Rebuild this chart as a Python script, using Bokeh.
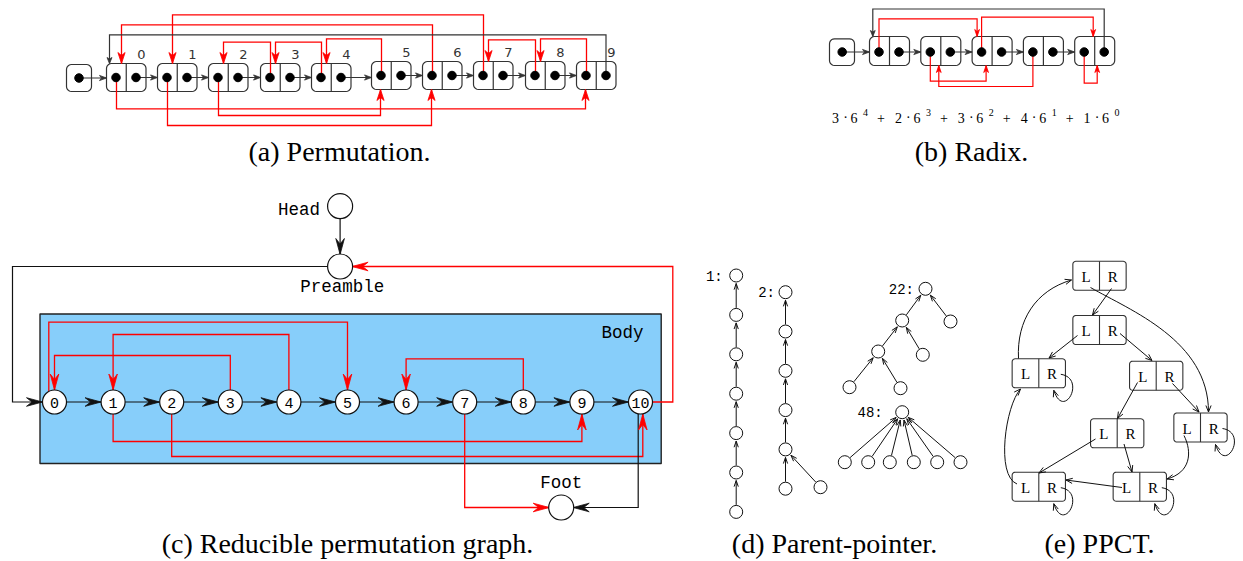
import numpy as np
from bokeh.plotting import figure
from bokeh.models import Range1d
from bokeh.core.properties import value
from bokeh.embed import file_html
from bokeh.resources import INLINE

# ---------------- data ----------------
A_LABELS = ["0", "1", "2", "3", "4", "5", "6", "7", "8", "9"]
A_TARGET = [9, 6, 5, 2, 3, 4, 0, 1, 7, 8]          # red pointer of node i -> node A_TARGET[i]

B_DIGITS = [3, 2, 3, 4, 1]
B_EXPONENTS = [4, 3, 2, 1, 0]
B_BASE = "6"
B_TARGET = [2, 2, 4, 1, 4]

C_LABELS = ["0", "1", "2", "3", "4", "5", "6", "7", "8", "9", "10"]
C_RED_EDGES = [(0, 5), (4, 1), (3, 0), (8, 6), (1, 9), (2, 10)]
C_NAMES = ["Head", "Preamble", "Body", "Foot"]

D_TREE_LABELS = ["1:", "2:", "22:", "48:"]
D_PARENTS = [[-1, 0, 1, 2, 3, 4, 5],
             [-1, 0, 1, 2, 3, 4, 4],
             [-1, 0, 0, 1, 1, 3, 3],
             [-1, 0, 0, 0, 0, 0, 0]]

E_LEFT_PTR = [5, 2, 0, 4, 6, 7, 2, 6]
E_RIGHT_PTR = [1, 3, 2, 5, 7, 5, 6, 7]

CAPTIONS = ["(a) Permutation.", "(b) Radix.", "(c) Reducible permutation graph.",
            "(d) Parent-pointer.", "(e) PPCT."]

# ---------------- style ----------------
RED = "#ff0000"
DARK = "#333333"
BLACK = "#111111"
SERIF = "Liberation Serif"
MONO = "Liberation Mono"
SANS = "DejaVu Sans"

W, H = 1243, 561
p = figure(width=W, height=H, x_range=Range1d(0, W), y_range=Range1d(H, 0),
           x_axis_location=None, y_axis_location=None, output_backend="svg",
           toolbar_location=None, min_border=0, background_fill_color="white",
           border_fill_color="white", outline_line_color=None)
p.grid.visible = False

bg = dict(xs=[], ys=[], fill=[], line=[], lw=[])
segs = dict(xs=[], ys=[], color=[], lw=[])
heads = dict(xs=[], ys=[], color=[])
vees = dict(xs=[], ys=[], color=[], lw=[])
curves = dict(x0=[], y0=[], x1=[], y1=[], cx0=[], cy0=[], cx1=[], cy1=[])
circ = dict(x=[], y=[], size=[], lw=[])
dots = dict(x=[], y=[], size=[])
texts = {}


def add_rrect(x0, y0, x1, y1, r, fill, line, lw, n=6):
    xs, ys = [], []
    for cx, cy, a0 in [(x1 - r, y0 + r, -90), (x1 - r, y1 - r, 0),
                       (x0 + r, y1 - r, 90), (x0 + r, y0 + r, 180)]:
        for a in np.linspace(np.radians(a0), np.radians(a0 + 90), n):
            xs.append(cx + r * np.cos(a))
            ys.append(cy + r * np.sin(a))
    bg["xs"].append(xs); bg["ys"].append(ys)
    bg["fill"].append(fill); bg["line"].append(line); bg["lw"].append(lw)


def add_line(pts, color, lw):
    segs["xs"].append([q[0] for q in pts]); segs["ys"].append([q[1] for q in pts])
    segs["color"].append(color); segs["lw"].append(lw)


def add_dart(tx, ty, dx, dy, L, w, notch, color):
    n = np.hypot(dx, dy); ux, uy = dx / n, dy / n
    px, py = -uy, ux
    bx, by = tx - ux * L, ty - uy * L
    mx, my = tx - ux * (L - notch), ty - uy * (L - notch)
    heads["xs"].append([tx, bx + px * w, mx, bx - px * w])
    heads["ys"].append([ty, by + py * w, my, by - py * w])
    heads["color"].append(color)


def add_vee(tx, ty, dx, dy, L, ang, color, lw):
    n = np.hypot(dx, dy); ux, uy = dx / n, dy / n
    ca, sa = np.cos(ang), np.sin(ang)
    l1 = (-ux * ca + uy * sa, -ux * sa - uy * ca)
    l2 = (-ux * ca - uy * sa, ux * sa - uy * ca)
    vees["xs"].append([tx + L * l1[0], tx, tx + L * l2[0]])
    vees["ys"].append([ty + L * l1[1], ty, ty + L * l2[1]])
    vees["color"].append(color); vees["lw"].append(lw)


def add_text(x, y, s, font, size, align="center", color="black"):
    d = texts.setdefault((font, size, align, color), dict(x=[], y=[], t=[]))
    d["x"].append(x); d["y"].append(y); d["t"].append(s)


# ---------------- (a) Permutation ----------------
A_L = [106, 157, 208, 260, 311, 371, 422, 473, 525, 576]
A_T = [63, 63, 63, 63, 63, 61, 61, 61, 61, 61]
A_W, A_H = 39.5, 28
A_LANE = [108.3, 125, 115, 41.7, 41.7, 38.3, 24.3, 14.3, 39.3, 38.3]
A_BACK = 34.3

add_rrect(66, 64, 91, 91, 5, "white", DARK, 1.2)
dots["x"].append(78.5); dots["y"].append(77.5); dots["size"].append(8.5)
add_line([(78.5, 77.5), (A_L[0], 77.5)], DARK, 1.2)
add_dart(A_L[0], 77.5, 1, 0, 7, 2.6, 2, DARK)
for i, lab in enumerate(A_LABELS):
    x0, y0 = A_L[i], A_T[i]
    cy = y0 + A_H / 2
    add_rrect(x0, y0, x0 + A_W, y0 + A_H, 5, "white", DARK, 1.2)
    add_line([(x0 + A_W / 2, y0), (x0 + A_W / 2, y0 + A_H)], DARK, 1.2)
    for off in (9.5, 29.5):
        dots["x"].append(x0 + off); dots["y"].append(cy); dots["size"].append(8.5)
    add_text(x0 + A_W - 4.5, y0 - 9, lab, SANS, 13, color="#333333")
    if i + 1 < len(A_LABELS):
        add_line([(x0 + 29.5, cy), (A_L[i + 1], cy)], DARK, 1.2)
        add_dart(A_L[i + 1], cy, 1, 0, 7, 2.6, 2, DARK)
    t = A_TARGET[i]
    sx, lane = x0 + 10, A_LANE[i]
    if t > i:
        tx, ty, d = A_L[t] + 9, A_T[t] + A_H, -1
    else:
        tx, ty, d = A_L[t] + 15, A_T[t], 1
    add_line([(sx, cy), (sx, lane), (tx, lane), (tx, ty)], RED, 1.3)
    add_dart(tx, ty, 0, d, 11, 3.6, 3, RED)
last = len(A_LABELS) - 1
bx, by = A_L[last] + 29.5, A_T[last] + A_H / 2
add_line([(bx, by), (bx, A_BACK), (A_L[0] + 3, A_BACK), (A_L[0] + 3, A_T[0])], DARK, 1.2)
add_dart(A_L[0] + 3, A_T[0], 0, 1, 6, 2.5, 1.5, DARK)

# ---------------- (b) Radix ----------------
B_L = [869 + 51.3 * i for i in range(len(B_DIGITS))]
B_T, B_W, B_H, B_CY = 36, 40, 29, 51.5
B_SIDE = ["top", "bottom", "top", "bottom", "bottom"]
B_LANE = [18.3, 80.7, 16.7, 86, 82.7]
B_TGT_OFF = [5, 14, 18.5, 18, 22.5]

add_rrect(829, 38.3, 854, 65, 5, "white", DARK, 1.2)
dots["x"].append(841.7); dots["y"].append(B_CY); dots["size"].append(8.5)
add_line([(841.7, B_CY), (B_L[0], B_CY)], DARK, 1.2)
add_dart(B_L[0], B_CY, 1, 0, 7, 2.6, 2, DARK)
for i in range(len(B_DIGITS)):
    x0 = B_L[i]
    add_rrect(x0, B_T, x0 + B_W, B_T + B_H, 5, "white", DARK, 1.2)
    add_line([(x0 + B_W / 2, B_T), (x0 + B_W / 2, B_T + B_H)], DARK, 1.2)
    for off in (9.5, 29.5):
        dots["x"].append(x0 + off); dots["y"].append(B_CY); dots["size"].append(8.5)
    if i + 1 < len(B_DIGITS):
        add_line([(x0 + 29.5, B_CY), (B_L[i + 1], B_CY)], DARK, 1.2)
        add_dart(B_L[i + 1], B_CY, 1, 0, 7, 2.6, 2, DARK)
    t = B_TARGET[i]
    sx, lane, tx = x0 + 9.5, B_LANE[i], B_L[t] + B_TGT_OFF[i]
    if B_SIDE[i] == "top":
        ty, d = B_T, 1
    else:
        ty, d = B_T + B_H, -1
    add_line([(sx, B_CY), (sx, lane), (tx, lane), (tx, ty)], RED, 1.2)
    add_dart(tx, ty, 0, d, 7, 2.4, 2, RED)
bx = B_L[-1] + 29.5
add_line([(bx, B_CY), (bx, 8.5), (B_L[0] + 3.3, 8.5), (B_L[0] + 3.3, B_T)], DARK, 1.2)
add_dart(B_L[0] + 3.3, B_T, 0, 1, 6, 2.4, 1.5, DARK)

# formula  3·6^4 + 2·6^3 + ...
F_X0, F_DX, F_Y = 835, 62.9, 117
for k, (dg, ex) in enumerate(zip(B_DIGITS, B_EXPONENTS)):
    x = F_X0 + F_DX * k
    add_text(x, F_Y, str(dg), SERIF, 14)
    add_text(x + 10, F_Y, "·", SERIF, 14)
    add_text(x + 18.5, F_Y, B_BASE, SERIF, 14)
    add_text(x + 30, F_Y - 5, str(ex), SERIF, 10)
    if k < len(B_DIGITS) - 1:
        add_text(x + 45.5, F_Y, "+", SERIF, 14)

# ---------------- (c) Reducible permutation graph ----------------
C_X0, C_DX, C_Y, C_R = 54, 58.6, 401.5, 12
HEAD = (339.6, 205.7); PRE = (339.6, 266); FOOT = (560.7, 507)
C_LANE = [321.7, 334, 355, 358.4, 441, 456]
C_SRC_OFF = {0: -5.7}
C_TGT_OFF = {10: 2.3}
cx = [C_X0 + C_DX * i for i in range(len(C_LABELS))]
add_rrect(39.5, 313.5, 660.7, 463, 0.01, "#87cefa", "#222222", 1.4, n=2)
DL, DW, DN = 16, 4.3, 5.5
for i in range(len(C_LABELS) - 1):
    add_line([(cx[i] + C_R, C_Y), (cx[i + 1] - C_R, C_Y)], BLACK, 1.2)
    add_dart(cx[i + 1] - C_R, C_Y, 1, 0, DL, DW, DN, BLACK)
for (s, t), lane in zip(C_RED_EDGES, C_LANE):
    sx = cx[s] + C_SRC_OFF.get(s, 0)
    tx = cx[t] + C_TGT_OFF.get(t, 0)
    if lane < C_Y:
        ty, d = C_Y - C_R, 1
    else:
        ty, d = C_Y + C_R, -1
    add_line([(sx, C_Y), (sx, lane), (tx, lane), (tx, ty)], RED, 1.3)
    add_dart(tx, ty, 0, d, DL, DW, DN, RED)
# Head -> Preamble
add_line([(HEAD[0], HEAD[1] + C_R), (PRE[0], PRE[1] - C_R)], BLACK, 1.2)
add_dart(PRE[0], PRE[1] - C_R, 0, 1, DL, DW, DN, BLACK)
# Preamble -> 0
add_line([(PRE[0] - C_R, PRE[1]), (12, PRE[1]), (12, C_Y), (cx[0] - C_R, C_Y)], BLACK, 1.2)
add_dart(cx[0] - C_R, C_Y, 1, 0, DL, DW, DN, BLACK)
# 10 -> Preamble
add_line([(cx[10] + C_R, C_Y), (672.3, C_Y), (672.3, PRE[1]), (PRE[0] + C_R, PRE[1])], RED, 1.3)
add_dart(PRE[0] + C_R, PRE[1], -1, 0, DL, DW, DN, RED)
# 7 -> Foot, 10 -> Foot
add_line([(cx[7], C_Y), (cx[7], FOOT[1]), (FOOT[0] - C_R, FOOT[1])], RED, 1.3)
add_dart(FOOT[0] - C_R, FOOT[1], 1, 0, DL, DW, DN, RED)
add_line([(cx[10] - 2.3, C_Y), (cx[10] - 2.3, FOOT[1]), (FOOT[0] + C_R, FOOT[1])], BLACK, 1.2)
add_dart(FOOT[0] + C_R, FOOT[1], -1, 0, DL, DW, DN, BLACK)
for i, lab in enumerate(C_LABELS):
    circ["x"].append(cx[i]); circ["y"].append(C_Y); circ["size"].append(2 * C_R); circ["lw"].append(1.2)
    add_text(cx[i], C_Y + 1, lab, MONO, 15)
for (x, y) in (HEAD, PRE, FOOT):
    circ["x"].append(x); circ["y"].append(y); circ["size"].append(2 * C_R + 1); circ["lw"].append(1.2)
add_text(319.5, 209.5, C_NAMES[0], MONO, 17.5, "right")
add_text(341.8, 286.5, C_NAMES[1], MONO, 17.5)
add_text(622, 332, C_NAMES[2], MONO, 17.5)
add_text(560.7, 482.5, C_NAMES[3], MONO, 17.5)

# ---------------- (d) Parent-pointer ----------------
D_POS = [
    [(735.7, 275 + 39.4 * k) for k in range(7)],
    [(785, 291.7 + 39.3 * k) for k in range(6)] + [(820, 486.7)],
    [(925, 288.3), (901.7, 320), (950, 321), (877.7, 351), (922.3, 354.3), (849, 386.7), (900, 387.7)],
    [(901.7, 411.7)] + [(x, 461.7) for x in (844.3, 867.7, 889.3, 913.3, 936.7, 960)],
]
D_GAP = [7, 4, 5, 13]
D_R = 6.5
for lab, parents, pos, gap in zip(D_TREE_LABELS, D_PARENTS, D_POS, D_GAP):
    for j, par in enumerate(parents):
        if par < 0:
            continue
        (x1, y1), (x2, y2) = pos[j], pos[par]
        dx, dy = x2 - x1, y2 - y1
        n = np.hypot(dx, dy); ux, uy = dx / n, dy / n
        sx, sy = x1 + ux * (D_R + 0.5), y1 + uy * (D_R + 0.5)
        ex, ey = x2 - ux * (D_R + 1.5), y2 - uy * (D_R + 1.5)
        add_line([(sx, sy), (ex, ey)], BLACK, 1.0)
        add_vee(ex, ey, ux, uy, 6.5, 0.33, BLACK, 1.0)
    for (x, y) in pos:
        circ["x"].append(x); circ["y"].append(y); circ["size"].append(2 * D_R); circ["lw"].append(1.0)
    rx, ry = pos[0]
    add_text(rx - D_R - gap, ry + 1, lab, MONO, 14, "right")

# ---------------- (e) PPCT ----------------
E_CX = [1099, 1099, 1038.3, 1155.7, 1116.7, 1200, 1038.3, 1139.3]
E_CY = [275.3, 329.5, 372.8, 375.2, 432.8, 427, 486.2, 486.2]
E_W, E_H = 53.3, 29
E_ROUTE = {
    (0, "R"): [(1111, 288), (1092, 314.5)],
    (0, "L"): [(1090, 287), (1130, 310), (1208, 340), (1208, 411.5)],
    (1, "L"): [(1077, 335), (1048.5, 357.5)],
    (1, "R"): [(1119.5, 333), (1151.5, 360)],
    (2, "L"): [(1018, 358), (1016, 320), (1035, 290), (1071, 279.5)],
    (3, "L"): [(1137, 382), (1117, 418)],
    (3, "R"): [(1172, 383), (1198.5, 411.5)],
    (4, "L"): [(1095, 438.5), (1038.5, 472.5)],
    (4, "R"): [(1123.5, 443.5), (1131.5, 471.5)],
    (5, "L"): [(1183.5, 435), (1192, 452), (1190, 472), (1166.5, 478.5)],
    (6, "L"): [(1016.5, 483.5), (995, 475), (1005, 405), (1020, 388.5)],
    (7, "L"): [(1121.5, 487), (1065.5, 479.5)],
}
for b in range(len(E_CX)):
    x0, y0 = E_CX[b] - E_W / 2, E_CY[b] - E_H / 2
    add_rrect(x0, y0, x0 + E_W, y0 + E_H, 3, "white", DARK, 1.1)
    add_line([(E_CX[b], y0), (E_CX[b], y0 + E_H)], DARK, 1.1)
    add_text(E_CX[b] - E_W / 4, E_CY[b] + 1, "L", SERIF, 15)
    add_text(E_CX[b] + E_W / 4, E_CY[b] + 1, "R", SERIF, 15)
for b, (lp, rp) in enumerate(zip(E_LEFT_PTR, E_RIGHT_PTR)):
    for half, tgt in (("L", lp), ("R", rp)):
        if tgt == b:
            c, r = E_CX[b], E_CY[b]
            route = [(c + 22, r + 1), (c + 48, r + 5), (c + 25, r + 48), (c + 15, r + 17)]
        else:
            route = E_ROUTE[(b, half)]
        if len(route) == 2:
            add_line(route, BLACK, 1.0)
            d = (route[1][0] - route[0][0], route[1][1] - route[0][1])
        else:
            (a0, a1), (b0, b1), (c0, c1), (e0, e1) = route
            for key, v in zip(("x0", "y0", "cx0", "cy0", "cx1", "cy1", "x1", "y1"),
                              (a0, a1, b0, b1, c0, c1, e0, e1)):
                curves[key].append(v)
            d = (e0 - c0, e1 - c1)
        add_vee(route[-1][0], route[-1][1], d[0], d[1], 7, 0.38, BLACK, 1.0)

# ---------------- captions ----------------
CAP_POS = [(339, 151), (971, 151), (347, 543), (834, 543), (1099, 543)]
for cap, (x, y) in zip(CAPTIONS, CAP_POS):
    add_text(x, y, cap, SERIF, 28)

# ---------------- draw ----------------
p.patches(xs=bg["xs"], ys=bg["ys"], fill_color=bg["fill"], line_color=bg["line"], line_width=bg["lw"])
p.multi_line(xs=segs["xs"], ys=segs["ys"], line_color=segs["color"], line_width=segs["lw"],
             line_join="miter")
p.bezier(x0=curves["x0"], y0=curves["y0"], x1=curves["x1"], y1=curves["y1"],
         cx0=curves["cx0"], cy0=curves["cy0"], cx1=curves["cx1"], cy1=curves["cy1"],
         line_color=BLACK, line_width=1.0)
p.patches(xs=heads["xs"], ys=heads["ys"], fill_color=heads["color"], line_color=heads["color"],
          line_width=0.8)
p.multi_line(xs=vees["xs"], ys=vees["ys"], line_color=vees["color"], line_width=vees["lw"])
p.scatter(x=circ["x"], y=circ["y"], size=circ["size"], marker="circle", fill_color="white",
          line_color=BLACK, line_width=circ["lw"])
p.scatter(x=dots["x"], y=dots["y"], size=dots["size"], marker="circle", fill_color="black",
          line_color="black")
for (font, size, align, color), d in texts.items():
    p.text(x=d["x"], y=d["y"], text=d["t"], text_font=value(font),
           text_font_size=value(f"{size}px"), text_align=align, text_baseline="middle",
           text_color=color)

open("out.html", "w").write(file_html(p, INLINE))
